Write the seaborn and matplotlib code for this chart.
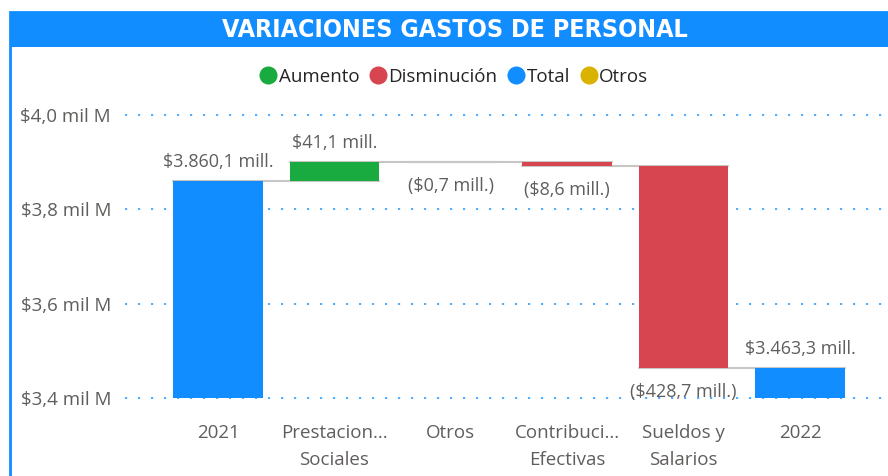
import numpy as np
import pandas as pd
import seaborn as sns
import matplotlib.pyplot as plt
from matplotlib.patches import Rectangle
from matplotlib.lines import Line2D
from matplotlib.ticker import FuncFormatter, MultipleLocator

# data (millions)
categories = ["2021", "Prestaciones Sociales", "Otros", "Contribuciones Efectivas",
              "Sueldos y Salarios", "2022"]
tick_labels = ["2021", "Prestacion...\nSociales", "Otros", "Contribuci...\nEfectivas",
               "Sueldos y\nSalarios", "2022"]
changes = [3860.1, 41.1, -0.7, -8.6, -428.7, 3463.3]
kinds = ["Total", "Aumento", "Disminución", "Disminución", "Disminución", "Total"]
value_labels = ["$3.860,1 mill.", "$41,1 mill.", "($0,7 mill.)", "($8,6 mill.)",
                "($428,7 mill.)", "$3.463,3 mill."]
legend_names = ["Aumento", "Disminución", "Total", "Otros"]

colors = {"Aumento": "#1AAB40", "Disminución": "#D64550", "Total": "#118DFF", "Otros": "#D9B300"}
text_grey = "#605E5C"

# waterfall bottoms / heights
bottoms, heights, running = [], [], 0.0
for kind, ch in zip(kinds, changes):
    if kind == "Total":
        bottoms.append(0.0)
        heights.append(ch)
        running = ch
    else:
        bottoms.append(running)
        heights.append(ch)
        running += ch
df = pd.DataFrame({"cat": categories, "height": heights, "bottom": bottoms, "kind": kinds})
df["top"] = df["bottom"] + df["height"]

sns.set_theme(style="white")
plt.rcParams["font.family"] = ["Open Sans", "DejaVu Sans"]

W, H = 888, 476
fig = plt.figure(figsize=(W / 100, H / 100), dpi=100)
fig.patch.set_facecolor("white")

# card + title band
fig.patches.append(Rectangle((10 / W, -0.01), 1.0, 1 - 12 / H + 0.01, transform=fig.transFigure,
                             facecolor="white", edgecolor="#118DFF", lw=2, zorder=0))
# soft edge glow
bg = fig.add_axes([11 / W, 0, 1 - 11 / W, 1 - 47 / H], zorder=0)
xs = np.linspace(0, 1, 400)
glow = np.clip(1 - xs / 0.06, 0, 1) ** 2 * 0.5 + np.clip((xs - 0.94) / 0.06, 0, 1) ** 1.5 * 0.7
rgba = np.zeros((1, 400, 4))
rgba[..., 0], rgba[..., 1], rgba[..., 2] = 0.80, 0.88, 0.98
rgba[..., 3] = glow
bg.imshow(rgba, aspect="auto", extent=(0, 1, 0, 1))
bg.axis("off")
fig.patches.append(Rectangle((10 / W, 1 - 47 / H), 1.0, 35 / H, transform=fig.transFigure,
                             facecolor="#118DFF", edgecolor="none", zorder=1))
fig.text(455 / W, 1 - 30 / H, "VARIACIONES GASTOS DE PERSONAL", ha="center", va="center",
         color="white", fontsize=18, fontweight="bold", fontstretch="condensed",
         family=["DejaVu Sans"], zorder=3)

ax = fig.add_axes([125 / W, 1 - 398 / H, (885 - 125) / W, (398 - 105.6) / H], zorder=2)
ax.set_facecolor("none")

sns.barplot(data=df, x="cat", y="height", bottom=df["bottom"].values, width=0.77,
            color=colors["Total"], linewidth=0, ax=ax, zorder=3)
for patch, kind in zip(ax.patches, kinds):
    patch.set_facecolor(colors[kind])
    patch.set_edgecolor("none")

# connectors
bw = 0.77
for i in range(len(df) - 1):
    lvl = df["top"].iloc[i]
    ax.plot([i - bw / 2, i + 1 + bw / 2], [lvl, lvl], color="#C8C6C4", lw=1.5, zorder=2)

# value labels
for i, row in df.iterrows():
    if row["height"] >= 0:
        ax.annotate(value_labels[i], (i, row["top"]), xytext=(0, 7), textcoords="offset points",
                    ha="center", va="bottom", fontsize=13, color=text_grey, zorder=4)
    else:
        ax.annotate(value_labels[i], (i, row["top"]), xytext=(0, -11), textcoords="offset points",
                    ha="center", va="top", fontsize=13, color=text_grey, zorder=4)

ax.set_ylim(3400, 4020)
ax.set_xlim(-0.8, 5.73)
ax.yaxis.set_major_locator(MultipleLocator(200))
ax.yaxis.set_major_formatter(FuncFormatter(lambda v, p: f"${v / 1000:.1f} mil M".replace(".", ",")))
ax.yaxis.grid(True, linestyle=(0, (1.2, 6)), color="#118DFF", lw=1.3, alpha=0.8)
for gl in ax.yaxis.get_gridlines():
    gl.set_clip_on(False)
ax.set_axisbelow(True)
ax.set_xticks(range(len(tick_labels)))
ax.set_xticklabels(tick_labels, linespacing=1.6)
ax.tick_params(axis="y", length=0, pad=10, labelsize=13.5, labelcolor=text_grey)
ax.tick_params(axis="x", length=0, pad=19, labelsize=13.5, labelcolor=text_grey)
ax.set_xlabel("")
ax.set_ylabel("")
sns.despine(ax=ax, left=True, bottom=True)

handles = [Line2D([], [], marker="o", ls="", markersize=13, markerfacecolor=colors[n],
                  markeredgecolor="none") for n in legend_names]
fig.legend(handles, legend_names, loc="center", bbox_to_anchor=(453 / W, 1 - 77 / H), ncol=4,
           frameon=False, handletextpad=0.0, columnspacing=0.45, handlelength=1.1,
           fontsize=13.5, labelcolor="#252423")

plt.savefig("out.png", dpi=100)
